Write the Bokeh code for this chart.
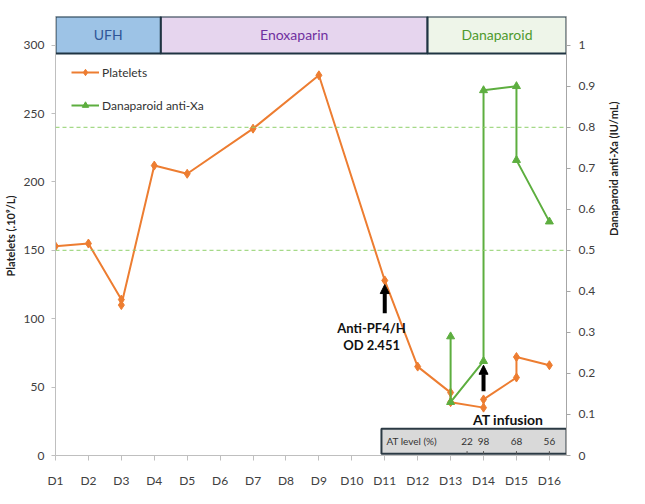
import math
from bokeh.plotting import figure
from bokeh.models import (Range1d, LinearAxis, FixedTicker, CustomJSTickFormatter, Span,
                          Arrow, NormalHead, Legend, LegendItem, ColumnDataSource)
from bokeh.embed import file_html
from bokeh.resources import INLINE
from bokeh.core.properties import value

# ---------------- data ----------------
day_labels = ["D%d" % i for i in range(1, 17)]
day_pos = list(range(1, 17))

plt_day = [1, 2, 3, 3, 4, 5, 7, 9, 11, 12, 13, 13, 14, 14, 15, 15, 16]
plt_val = [153, 155, 114, 110, 212, 206, 239, 278, 128, 65, 46, 39, 35, 41, 57, 72, 66]

axa_day = [13, 13, 14, 14, 15, 15, 16]
axa_val = [0.29, 0.13, 0.23, 0.89, 0.90, 0.72, 0.57]

target_axa = [0.5, 0.8]

phase_names = ["UFH", "Enoxaparin", "Danaparoid"]
phase_start = [1.0, 4.2, 12.3]
phase_end = [4.2, 12.3, 16.52]
phase_fill = ["#9DC3E6", "#E6D5EE", "#EEF5E9"]
phase_textc = ["#2F5597", "#7030A0", "#4E9A2E"]

at_day = [13.5, 14, 15, 16]
at_level = [22, 98, 68, 56]

plt_ticks = [0, 50, 100, 150, 200, 250, 300]
axa_ticks = [0, 0.1, 0.2, 0.3, 0.4, 0.5, 0.6, 0.7, 0.8, 0.9, 1.0]

# ---------------- style ----------------
FONT = "Lato"
ORANGE = "#ED7D31"
GREEN = "#5DAE3F"
AXIS_C = "#BFBFBF"
TXT = "#404040"

YMAX = 321.0
XMIN, XMAX = 1.0, 16.52

p = figure(width=629, height=496, output_backend="svg", toolbar_location=None,
           x_range=Range1d(XMIN, XMAX), y_range=Range1d(0, YMAX),
           min_border_left=54, min_border_right=61, min_border_top=16, min_border_bottom=41)
p.outline_line_color = None
p.xgrid.visible = False
p.ygrid.visible = False
p.background_fill_color = "white"

p.extra_y_ranges = {"axa": Range1d(0, YMAX / 300.0)}

# axes
xa = p.xaxis[0]
xa.ticker = FixedTicker(ticks=day_pos)
xa.major_label_overrides = {i: lab for i, lab in zip(day_pos, day_labels)}
xa.minor_tick_line_color = None
xa.axis_line_color = AXIS_C
xa.major_tick_line_color = AXIS_C
xa.major_tick_in = 0
xa.major_tick_out = 5
xa.major_label_standoff = 12
xa.major_label_text_font = FONT
xa.major_label_text_font_size = "12px"
xa.major_label_text_color = TXT

ya = p.yaxis[0]
ya.ticker = FixedTicker(ticks=plt_ticks)
ya.minor_tick_line_color = None
ya.axis_line_color = AXIS_C
ya.major_tick_line_color = AXIS_C
ya.major_tick_in = 0
ya.major_tick_out = 4
ya.major_label_standoff = 7
ya.major_label_text_font = FONT
ya.major_label_text_font_size = "12px"
ya.major_label_text_color = TXT
ya.axis_label = "Platelets (.10\u2079/L)"
ya.axis_label_text_font = FONT
ya.axis_label_text_font_style = "bold"
ya.axis_label_text_font_size = "11px"
ya.axis_label_text_color = "#222222"
ya.axis_label_standoff = 4

ra = LinearAxis(y_range_name="axa", ticker=FixedTicker(ticks=axa_ticks),
                formatter=CustomJSTickFormatter(code="return (Math.round(tick*10)/10).toString();"))
ra.minor_tick_line_color = None
ra.axis_line_color = "#A6A6A6"
ra.major_tick_line_color = "#A6A6A6"
ra.major_tick_in = 0
ra.major_tick_out = 4
ra.major_label_standoff = 8
ra.major_label_text_font = FONT
ra.major_label_text_font_size = "12px"
ra.major_label_text_color = TXT
ra.axis_label = "Danaparoid anti-Xa (IU/mL)"
ra.axis_label_text_font = FONT
ra.axis_label_text_font_style = "bold"
ra.axis_label_text_font_size = "11px"
ra.axis_label_text_color = "#222222"
ra.axis_label_standoff = 15
try:
    ra.axis_label_orientation = math.pi / 2
except Exception:
    pass
p.add_layout(ra, "right")

# target range dashed lines
for t in target_axa:
    p.add_layout(Span(location=t, dimension="width", y_range_name="axa",
                      line_color="#8FD06A", line_alpha=0.8, line_dash="4 3", line_width=1.2))

# phase band
band = ColumnDataSource(dict(left=phase_start, right=phase_end,
                             bottom=[294] * 3, top=[YMAX] * 3,
                             fill=phase_fill, name=phase_names, tc=phase_textc,
                             xm=[(a + b) / 2 for a, b in zip(phase_start, phase_end)],
                             ym=[(294 + YMAX) / 2] * 3))
p.quad(left="left", right="right", bottom="bottom", top="top", source=band,
       fill_color="fill", line_color="#1F3442", line_width=2)
p.text(x="xm", y="ym", text="name", source=band, text_color="tc",
       text_font=value(FONT), text_font_size="14px",
       text_align="center", text_baseline="middle")

# AT level table box
at_src = ColumnDataSource(dict(x=at_day, lab=[str(v) for v in at_level]))
p.quad(left=[10.9], right=[XMAX], bottom=[1.2], top=[19.5],
       fill_color="#D9D9D9", line_color="#2B3A44", line_width=2)
p.text(x=[11.82], y=[10.4], text=["AT level (%)"], text_font=value(FONT),
       text_font_size="10px", text_color="#333333", text_align="center", text_baseline="middle")
p.text(x="x", y=10.4, text="lab", source=at_src, text_font=value(FONT),
       text_font_size="10px", text_color="#333333", text_align="center", text_baseline="middle")
p.segment(x0="x", y0=1.2, x1="x", y1=3.2, source=at_src, line_color="#555555", line_width=1)

# series
pl_r = p.line(plt_day, plt_val, line_color=ORANGE, line_width=2)
pl_m = p.scatter(plt_day, plt_val, marker="diamond", size=9, fill_color=ORANGE, line_color=ORANGE)
ax_r = p.line(axa_day, axa_val, line_color=GREEN, line_width=2, y_range_name="axa")
ax_m = p.scatter(axa_day, axa_val, marker="triangle", size=8, fill_color=GREEN, line_color=GREEN,
                 y_range_name="axa")

# annotations
p.add_layout(Arrow(end=NormalHead(size=9, fill_color="black", line_color="black"),
                   x_start=11, y_start=104, x_end=11, y_end=125,
                   line_color="black", line_width=4))
p.add_layout(Arrow(end=NormalHead(size=9, fill_color="black", line_color="black"),
                   x_start=14, y_start=47, x_end=14, y_end=66,
                   line_color="black", line_width=4))
p.text(x=[10.6, 10.6], y=[93.5, 80.5], text=["Anti-PF4/H", "OD 2.451"], text_font=value(FONT),
       text_font_style="bold", text_font_size="13px", text_color="#111111",
       text_align="center", text_baseline="middle")
p.text(x=[14.75], y=[26], text=["AT infusion"], text_font=value(FONT),
       text_font_style="bold", text_font_size="14px", text_color="#111111",
       text_align="center", text_baseline="middle")

legend = Legend(items=[LegendItem(label="Platelets", renderers=[pl_r, pl_m]),
                       LegendItem(label="Danaparoid anti-Xa", renderers=[ax_r, ax_m])],
                location=(16, 342), padding=0, margin=0, spacing=17,
                glyph_width=28, glyph_height=16, label_height=16, label_standoff=3,
                border_line_color=None, background_fill_alpha=0,
                label_text_font=FONT, label_text_font_size="12px", label_text_color="#333333")
p.add_layout(legend)

open("out.html", "w").write(file_html(p, INLINE))
